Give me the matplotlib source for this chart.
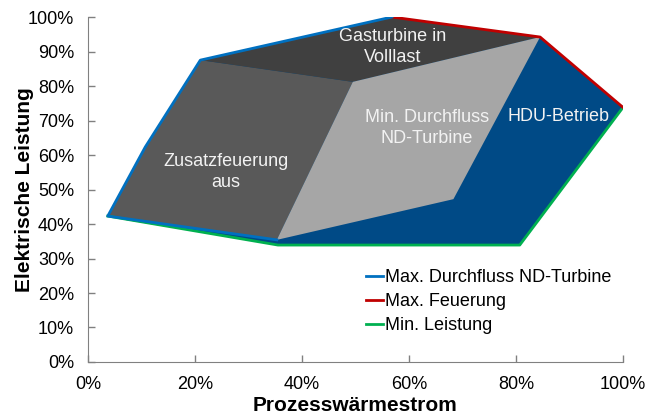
import matplotlib
matplotlib.use("Agg")
import matplotlib.pyplot as plt
from matplotlib.ticker import PercentFormatter

plt.rcParams['font.family'] = ['Liberation Sans', 'DejaVu Sans']

# Regions (x = Prozesswärmestrom %, y = Elektrische Leistung %)
zusatz_x = [3.7, 10.7, 21.0, 49.5, 35.3]
zusatz_y = [42.3, 62.3, 87.5, 81.2, 35.4]
gasturb_x = [21.0, 56.8, 84.5, 49.5]
gasturb_y = [87.5, 100.0, 94.2, 81.2]
mindurch_x = [49.5, 84.5, 68.3, 35.3]
mindurch_y = [81.2, 94.2, 47.2, 35.4]
hdu_x = [3.7, 10.7, 21.0, 56.8, 84.5, 100.0, 80.7, 35.5, 6.9]
hdu_y = [42.3, 62.3, 87.5, 100.0, 94.2, 73.8, 33.9, 33.9, 41.2]

# Boundary lines
max_durch_x = [35.3, 3.7, 10.7, 21.0, 56.8]
max_durch_y = [35.4, 42.3, 62.3, 87.5, 100.0]
max_feuer_x = [56.8, 84.5, 100.0]
max_feuer_y = [100.0, 94.2, 73.8]
min_leist_x = [100.0, 80.7, 35.5, 3.7]
min_leist_y = [73.8, 33.9, 33.9, 42.3]

region_labels = ["Zusatzfeuerung\naus", "Gasturbine in\nVolllast", "Min. Durchfluss\nND-Turbine", "HDU-Betrieb"]
label_x = [25.8, 57.0, 63.4, 87.9]
label_y = [55.1, 91.3, 67.8, 71.3]

x_ticks = [0, 20, 40, 60, 80, 100]
y_ticks = [0, 10, 20, 30, 40, 50, 60, 70, 80, 90, 100]

fig = plt.figure(figsize=(6.45, 4.17), dpi=100)
ax = fig.add_axes([0.1364, 0.1319, 0.8295, 0.8273])

ax.fill(hdu_x, hdu_y, color='#004a86', lw=0, zorder=1)
ax.fill(zusatz_x, zusatz_y, color='#595959', lw=0, zorder=2)
ax.fill(gasturb_x, gasturb_y, color='#404040', lw=0, zorder=2)
ax.fill(mindurch_x, mindurch_y, color='#a6a6a6', lw=0, zorder=2)

ax.plot(min_leist_x, min_leist_y, color='#00b050', lw=2, zorder=3, label='Min. Leistung')
ax.plot(max_feuer_x, max_feuer_y, color='#c00000', lw=2, zorder=3, label='Max. Feuerung')
ax.plot(max_durch_x, max_durch_y, color='#0070c0', lw=2, zorder=4, label='Max. Durchfluss ND-Turbine')

for t, x, y in zip(region_labels, label_x, label_y):
    ax.text(x, y, t, color='#f2f2f2', fontsize=13, ha='center', va='center', zorder=5,
            linespacing=1.25)

handles, labels = ax.get_legend_handles_labels()
order = [2, 1, 0]
ax.legend([handles[i] for i in order], [labels[i] for i in order], loc='upper left',
          bbox_to_anchor=(0.506, 0.29), frameon=False, fontsize=13, handlelength=0.95,
          handletextpad=0.1, labelspacing=0.38, borderaxespad=0)

ax.set_xlim(0, 100)
ax.set_ylim(0, 100)
ax.set_xticks(x_ticks)
ax.set_yticks(y_ticks)
ax.xaxis.set_major_formatter(PercentFormatter(decimals=0))
ax.yaxis.set_major_formatter(PercentFormatter(decimals=0))
ax.tick_params(direction='in', length=5, color='#808080', labelsize=13, width=1)
ax.tick_params(axis='y', pad=10)
ax.tick_params(axis='x', pad=10)
for s in ['top', 'right']:
    ax.spines[s].set_visible(False)
for s in ['left', 'bottom']:
    ax.spines[s].set_color('#808080')

ax.set_xlabel('Prozesswärmestrom', fontsize=15, fontweight='bold', labelpad=2)
ax.set_ylabel('Elektrische Leistung', fontsize=15, fontweight='bold')
ax.yaxis.set_label_coords(-0.101, 0.5)

fig.savefig('out.png', dpi=100)
